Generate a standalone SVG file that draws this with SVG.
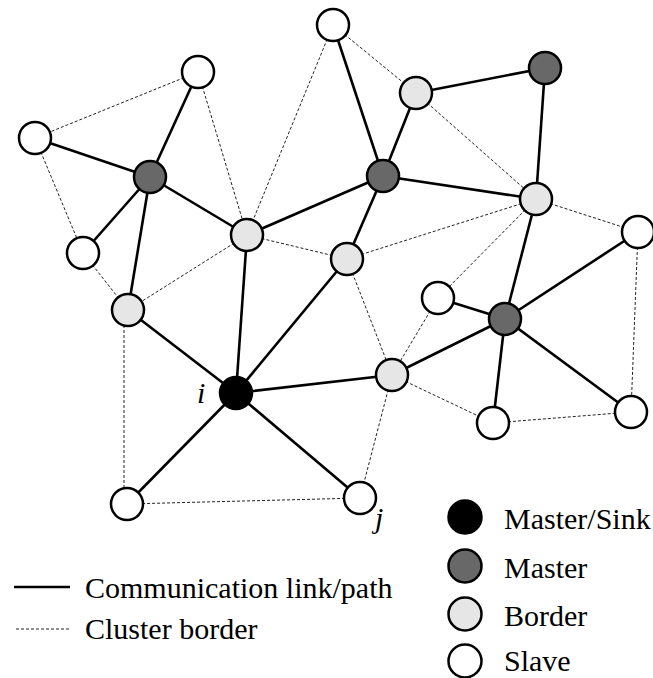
<svg xmlns="http://www.w3.org/2000/svg" width="653" height="678" viewBox="0 0 653 678">
<style>
.s{stroke:#000;stroke-width:2.6;fill:none}
.d{stroke:#222;stroke-width:1;stroke-dasharray:3,2;fill:none}
.n{stroke:#000;stroke-width:2.5}
.sink{fill:#000}
.master{fill:#686868}
.border{fill:#e6e6e6}
.slave{fill:#fff}
.t{font-family:"Liberation Serif","Times New Roman",serif;font-size:30px;fill:#000}
.it{font-style:italic}
</style>
<rect width="653" height="678" fill="#fff"/>
<g id="connectors">
<g id="cluster-borders">
<line class="d" x1="198" y1="72" x2="35" y2="138"/>
<line class="d" x1="35" y1="138" x2="83" y2="253"/>
<line class="d" x1="83" y1="253" x2="128" y2="310"/>
<line class="d" x1="198" y1="72" x2="247" y2="235"/>
<line class="d" x1="333" y1="25" x2="247" y2="235"/>
<line class="d" x1="247" y1="235" x2="128" y2="310"/>
<line class="d" x1="247" y1="235" x2="347" y2="259"/>
<line class="d" x1="333" y1="25" x2="416" y2="93"/>
<line class="d" x1="416" y1="93" x2="536" y2="199"/>
<line class="d" x1="347" y1="259" x2="536" y2="199"/>
<line class="d" x1="536" y1="199" x2="438" y2="298"/>
<line class="d" x1="536" y1="199" x2="638" y2="232"/>
<line class="d" x1="347" y1="259" x2="392" y2="375"/>
<line class="d" x1="438" y1="298" x2="392" y2="375"/>
<line class="d" x1="392" y1="375" x2="493" y2="423"/>
<line class="d" x1="493" y1="423" x2="631" y2="412"/>
<line class="d" x1="638" y1="232" x2="631" y2="412"/>
<line class="d" x1="392" y1="375" x2="360" y2="498"/>
<line class="d" x1="360" y1="498" x2="127" y2="504"/>
<line class="d" x1="124" y1="310" x2="124" y2="504"/>
</g>
<g id="links">
<line class="s" x1="35" y1="138" x2="150" y2="177"/>
<line class="s" x1="198" y1="72" x2="150" y2="177"/>
<line class="s" x1="150" y1="177" x2="83" y2="253"/>
<line class="s" x1="150" y1="177" x2="128" y2="310"/>
<line class="s" x1="150" y1="177" x2="247" y2="235"/>
<line class="s" x1="247" y1="235" x2="383" y2="176"/>
<line class="s" x1="247" y1="235" x2="236" y2="393"/>
<line class="s" x1="333" y1="25" x2="383" y2="176"/>
<line class="s" x1="383" y1="176" x2="416" y2="93"/>
<line class="s" x1="416" y1="93" x2="545" y2="68"/>
<line class="s" x1="545" y1="68" x2="536" y2="199"/>
<line class="s" x1="383" y1="176" x2="536" y2="199"/>
<line class="s" x1="383" y1="176" x2="347" y2="259"/>
<line class="s" x1="347" y1="259" x2="236" y2="393"/>
<line class="s" x1="128" y1="310" x2="236" y2="393"/>
<line class="s" x1="236" y1="393" x2="392" y2="375"/>
<line class="s" x1="236" y1="393" x2="127" y2="504"/>
<line class="s" x1="236" y1="393" x2="360" y2="498"/>
<line class="s" x1="392" y1="375" x2="505" y2="319"/>
<line class="s" x1="438" y1="298" x2="505" y2="319"/>
<line class="s" x1="536" y1="199" x2="505" y2="319"/>
<line class="s" x1="638" y1="232" x2="505" y2="319"/>
<line class="s" x1="505" y1="319" x2="493" y2="423"/>
<line class="s" x1="505" y1="319" x2="631" y2="412"/>
</g>
</g>
<g id="nodes">
<g id="nA"><circle class="n slave" cx="333" cy="25" r="16"/></g>
<g id="nB"><circle class="n slave" cx="198" cy="72" r="16"/></g>
<g id="nC"><circle class="n slave" cx="35" cy="138" r="16"/></g>
<g id="nD"><circle class="n master" cx="150" cy="177" r="16"/></g>
<g id="nE"><circle class="n slave" cx="83" cy="253" r="16"/></g>
<g id="nF"><circle class="n border" cx="128" cy="310" r="16"/></g>
<g id="nG"><circle class="n border" cx="247" cy="235" r="16"/></g>
<g id="nH"><circle class="n border" cx="416" cy="93" r="16"/></g>
<g id="nI"><circle class="n master" cx="545" cy="68" r="16"/></g>
<g id="nJ"><circle class="n master" cx="383" cy="176" r="16"/></g>
<g id="nK"><circle class="n border" cx="347" cy="259" r="16"/></g>
<g id="nL"><circle class="n border" cx="536" cy="199" r="16"/></g>
<g id="nM"><circle class="n slave" cx="638" cy="232" r="16"/></g>
<g id="nN"><circle class="n slave" cx="438" cy="298" r="16"/></g>
<g id="nO"><circle class="n master" cx="505" cy="319" r="16"/></g>
<g id="nP"><circle class="n sink" cx="236" cy="393" r="16"/><text class="t it" x="197" y="403">i</text></g>
<g id="nQ"><circle class="n border" cx="392" cy="375" r="16"/></g>
<g id="nR"><circle class="n slave" cx="493" cy="423" r="16"/></g>
<g id="nS"><circle class="n slave" cx="631" cy="412" r="16"/></g>
<g id="nT"><circle class="n slave" cx="127" cy="504" r="16"/></g>
<g id="nU"><circle class="n slave" cx="360" cy="498" r="16"/><text class="t it" x="375" y="528">j</text></g>
</g>
<g id="legend">
<line class="s" x1="14" y1="587" x2="70" y2="587"/>
<text class="t" x="85" y="598">Communication link/path</text>
<line class="d" x1="16" y1="629" x2="70" y2="629"/>
<text class="t" x="85" y="639">Cluster border</text>
<circle class="n sink" cx="465" cy="517" r="16.5"/>
<text class="t" x="504" y="529">Master/Sink</text>
<circle class="n master" cx="465" cy="566" r="16.5"/>
<text class="t" x="504" y="578">Master</text>
<circle class="n border" cx="465" cy="614" r="16.5"/>
<text class="t" x="504" y="626">Border</text>
<circle class="n slave" cx="465" cy="661" r="16.5"/>
<text class="t" x="504" y="671">Slave</text>
</g>
</svg>
